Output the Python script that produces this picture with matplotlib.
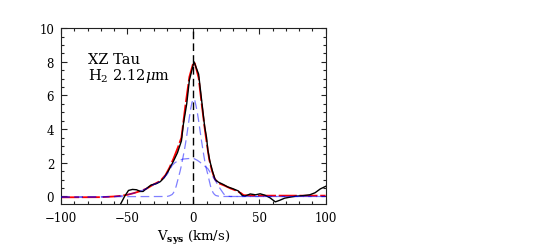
import matplotlib
matplotlib.use("Agg")
import matplotlib.pyplot as plt
from matplotlib.ticker import MultipleLocator

plt.rcParams['font.family'] = ['DejaVu Serif']
plt.rcParams['mathtext.fontset'] = 'dejavuserif'

# Observed spectrum (black)
v_obs = [-55, -52, -49, -46, -43, -40, -38, -35, -32, -28, -25, -22, -19, -15, -12, -9,
         -7.5, -5, -3, 0.5, 4, 8.5, 10, 11, 12.5, 14.5, 16.5, 19, 22.5, 26, 30, 34, 37,
         39, 43, 47, 50.5, 54, 58, 62, 65.5, 69, 73, 78, 83, 88, 92, 96, 100]
f_obs = [-0.45, 0.0, 0.36, 0.42, 0.40, 0.30, 0.30, 0.50, 0.68, 0.76, 0.88, 1.12, 1.50, 2.10, 2.60, 3.30,
         4.30, 5.50, 6.90, 8.00, 7.27, 4.20, 3.50, 2.75, 2.10, 1.50, 1.00, 0.85, 0.72, 0.57, 0.46, 0.33, 0.06,
         0.02, 0.15, 0.10, 0.16, 0.08, -0.08, -0.32, -0.22, -0.10, -0.04, 0.02, 0.05, 0.10, 0.22, 0.45, 0.60]

# Total model fit (red)
v_fit = [-100, -70, -60, -55, -50, -45, -40, -35, -30, -25, -21, -18, -15, -11.5, -9, -7.5,
         -6, -3, 0, 1, 4, 6, 8.5, 10, 12, 14, 16, 18, 20, 24, 28, 32, 36, 38, 45, 100]
f_fit = [-0.05, -0.04, 0.0, 0.04, 0.10, 0.20, 0.32, 0.48, 0.72, 0.92, 1.28, 1.72, 2.25, 2.95, 3.50, 4.45,
         5.40, 7.10, 7.95, 7.95, 7.05, 5.70, 4.10, 3.25, 2.20, 1.55, 1.08, 0.86, 0.76, 0.63, 0.48, 0.36, 0.20, 0.08, 0.05, 0.05]

# Narrow component (blue dashed)
v_nar = [-100, -20, -18, -16, -15, -14, -13, -12, -11, -10, -9, -8, -7, -6, -5, -4, -3, -2, -1,
         0, 0.5, 1, 2, 3, 4, 5, 6, 7, 8, 9, 10, 11, 12, 13, 14, 15, 16, 17, 19, 21, 100]
f_nar = [-0.02, 0.0, 0.04, 0.12, 0.22, 0.38, 0.60, 0.90, 1.20, 1.50, 1.85, 2.25, 2.65, 3.10, 3.60, 4.15, 4.70, 5.20, 5.60,
         5.75, 5.80, 5.75, 5.40, 5.00, 4.50, 3.95, 3.40, 2.90, 2.40, 1.95, 1.60, 1.30, 0.95, 0.62, 0.38, 0.22, 0.12, 0.06, 0.02, 0.0, 0.0]

# Broad component (blue dashed)
v_brd = [-100, -70, -60, -55, -50, -45, -40, -35, -30, -25, -20, -18, -16, -14, -12, -8, -4, 0,
         3, 5, 8, 11, 13, 15, 17, 19, 21, 23, 25, 28, 100]
f_brd = [-0.05, -0.04, 0.0, 0.04, 0.10, 0.20, 0.32, 0.48, 0.70, 0.90, 1.30, 1.55, 1.85, 2.00, 2.10, 2.22, 2.25, 2.27,
         2.15, 2.04, 1.85, 1.65, 1.40, 1.15, 0.90, 0.62, 0.38, 0.15, 0.03, 0.0, 0.0]

fig = plt.figure(figsize=(5.5, 2.51), dpi=100)
ax = fig.add_axes([0.111, 0.183, 0.481, 0.701])

ax.plot(v_fit, f_fit, color='red', lw=1.3, dashes=(10, 1.5), zorder=2)
ax.plot(v_obs, f_obs, color='black', lw=1.0, zorder=3)
ax.plot(v_nar, f_nar, color='blue', alpha=0.5, lw=0.9, dashes=(7, 3.6), zorder=4)
ax.plot(v_brd, f_brd, color='blue', alpha=0.5, lw=0.9, dashes=(7, 3.6), zorder=4)
ax.axvline(0, color='black', lw=1.0, dashes=(5.5, 3), zorder=5)

ax.set_xlim(-100, 100)
ax.set_ylim(-0.45, 10)
ax.xaxis.set_major_locator(MultipleLocator(50))
ax.xaxis.set_minor_locator(MultipleLocator(10))
ax.yaxis.set_major_locator(MultipleLocator(2))
ax.yaxis.set_minor_locator(MultipleLocator(0.5))
ax.tick_params(which='both', direction='in', top=True, right=True, color='#222222', width=0.8)
ax.tick_params(which='major', length=5.5 * 0.72, pad=5, labelsize=8.5)
ax.tick_params(which='minor', length=3 * 0.72)
ax.set_xticks([-100, -50, 0, 50, 100])
ax.set_xticklabels(['\u2212100', '\u221250', '0', '50', '100'])
for s in ax.spines.values():
    s.set_linewidth(0.8)
    s.set_color('#222222')

ax.set_xlabel(r'V$_{\mathbf{sys}}$ (km/s)', fontsize=9.5, labelpad=3)

ax.text(-80, 7.93, 'XZ Tau', fontsize=10.5, ha='left', va='baseline')
ax.text(-80, 6.98, r'H$_2$ 2.12$\mu$m', fontsize=10.5, ha='left', va='baseline')

fig.savefig('out.png', dpi=100)
